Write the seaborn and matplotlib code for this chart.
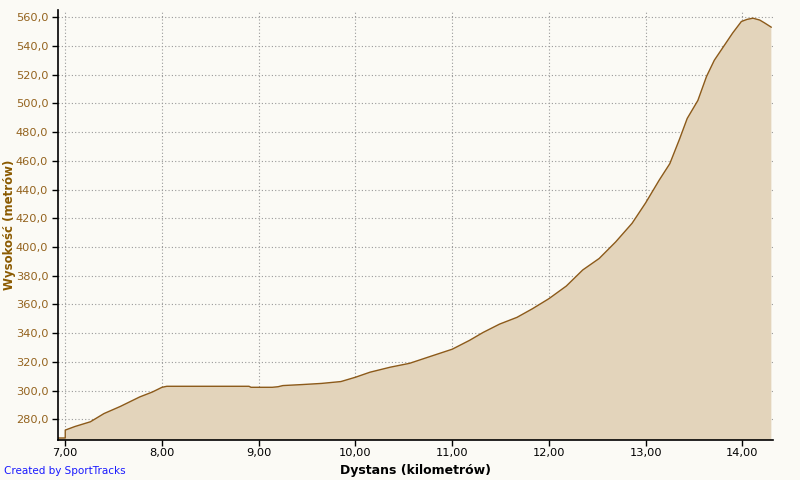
"""Profil wysokości (SportTracks) — odtworzenie wykresu w seaborn."""
import matplotlib
matplotlib.use("Agg")
import matplotlib.pyplot as plt
from matplotlib.ticker import FuncFormatter
import pandas as pd
import seaborn as sns

# dystans [km] i wysokość [m]
dystans = [6.925, 7.0, 7.0, 7.1, 7.26, 7.4, 7.57, 7.77, 7.9, 8.0, 8.05, 8.5,
           8.9, 8.92, 9.14, 9.2, 9.25, 9.45, 9.65, 9.85, 10.0, 10.15, 10.36,
           10.56, 10.77, 11.0, 11.18, 11.32, 11.49, 11.67, 11.83, 12.0, 12.18,
           12.35, 12.52, 12.69, 12.86, 13.0, 13.14, 13.25, 13.35, 13.43, 13.54,
           13.63, 13.71, 13.84, 13.9, 13.99, 14.05, 14.11, 14.18, 14.23, 14.3]
wysokosc = [267.0, 267.0, 272.5, 275.0, 278.3, 284.0, 289.0, 295.6, 299.0, 302.3,
            303.0, 303.0, 303.0, 302.3, 302.3, 302.7, 303.5, 304.2, 305.0, 306.3,
            309.3, 312.8, 316.3, 319.0, 323.7, 328.8, 335.0, 340.5, 346.3, 351.0,
            357.0, 364.0, 372.8, 384.0, 392.0, 403.5, 416.5, 430.7, 446.5, 458.0,
            475.0, 489.5, 502.0, 518.8, 530.0, 543.0, 549.0, 557.0, 558.5, 559.3,
            558.0, 556.0, 553.0]

x_ticks = [7, 8, 9, 10, 11, 12, 13, 14]
y_ticks = list(range(280, 561, 20))

BG = "#fbfaf5"
FILL = "#e3d4bb"
LINE = "#8c5a1a"
BROWN = "#94631e"

df = pd.DataFrame({"dystans": dystans, "wysokosc": wysokosc})

sns.set_style("white", {"axes.facecolor": BG, "figure.facecolor": BG})
plt.rcParams["font.family"] = ["DejaVu Sans"]

fig = plt.figure(figsize=(8, 4.8), dpi=100)
ax = fig.add_axes([58 / 800, 40 / 480, 715 / 800, 430 / 480])

ax.fill_between(df["dystans"], df["wysokosc"], 200, color=FILL, lw=0)
sns.lineplot(data=df, x="dystans", y="wysokosc", color=LINE, lw=1.0,
             sort=False, estimator=None, ax=ax)

ax.set_xlim(6.925, 14.317)
ax.set_ylim(265.6, 565)
ax.set_xticks(x_ticks)
ax.set_yticks(y_ticks)
ax.xaxis.set_major_formatter(FuncFormatter(lambda v, p: f"{v:.2f}".replace(".", ",")))
ax.yaxis.set_major_formatter(FuncFormatter(lambda v, p: f"{v:.1f}".replace(".", ",")))
ax.grid(True, color="#999999", ls=(0, (1, 2)), lw=0.8)

for s in ["top", "right"]:
    ax.spines[s].set_visible(False)
for s in ["left", "bottom"]:
    ax.spines[s].set_color("black")
    ax.spines[s].set_linewidth(1.2)

ax.tick_params(axis="both", direction="out", length=4, width=1, color="black",
               labelsize=8.2, bottom=True, left=True)
ax.tick_params(axis="y", labelcolor=BROWN, pad=3)
ax.tick_params(axis="x", labelcolor="black", pad=2)

ax.set_xlabel("Dystans (kilometrów)", fontsize=9, fontweight="bold", color="black",
              labelpad=4)
ax.set_ylabel("Wysokość (metrów)", fontsize=8.5, fontweight="bold", color="#8b5a00")
ax.yaxis.set_label_coords(-42 / 715, 0.5)

fig.text(4 / 800, 1 - 471 / 480, "Created by SportTracks", color="#1a1aff",
         fontsize=7.5, va="center", ha="left")

fig.savefig("out.png", dpi=100, facecolor=BG)
plt.close(fig)
